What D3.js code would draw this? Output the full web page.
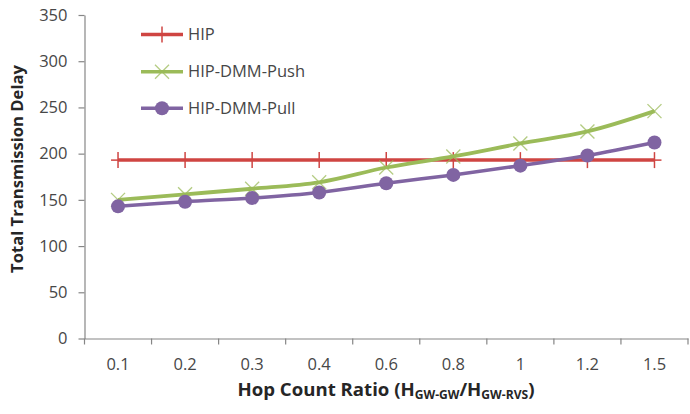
<!DOCTYPE html>
<html><head><meta charset="utf-8">
<script src="https://cdn.jsdelivr.net/npm/d3@7"></script>
<style>
html,body{margin:0;padding:0;background:#fff;}
svg{display:block;font-family:"Open Sans",sans-serif;}
</style></head>
<body><svg id="c" width="690" height="414"></svg>
<script>
const categories = ["0.1","0.2","0.3","0.4","0.6","0.8","1","1.2","1.5"];
const hipValues  = [193,193,193,193,193,193,193,193,193];
const pushValues = [150,156,162,169,185,197,211,224,246];
const pullValues = [143,148,152,158,168,177,187,198,212];
const yTicks = [0,50,100,150,200,250,300,350];
const seriesNames = ["HIP","HIP-DMM-Push","HIP-DMM-Pull"];
const seriesColors = ["#cf4542","#9bbb59","#8064a2"];

const svg = d3.select("#c");
const mLeft = 84.5, mRight = 688, mTop = 15, mBottom = 338.5;
const x = d3.scaleBand().domain(categories).range([mLeft, mRight]).padding(0);
const y = d3.scaleLinear().domain([0,350]).range([mBottom, mTop]);
const axisColor = "#868686", textColor = "#474747";

// Y axis
const ya = svg.append("g").attr("transform",`translate(${mLeft},0)`)
  .call(d3.axisLeft(y).tickValues(yTicks).tickSize(6).tickPadding(11).tickSizeOuter(0));
ya.select(".domain").attr("stroke",axisColor).attr("stroke-width",1.2);
ya.selectAll(".tick line").attr("stroke",axisColor).attr("stroke-width",1.2);
ya.selectAll(".tick text").attr("fill",textColor).style("font-size","16.5px").style("font-family","'Open Sans',sans-serif");

// X axis
const xa = svg.append("g").attr("transform",`translate(0,${mBottom})`)
  .call(d3.axisBottom(x).tickSize(0).tickPadding(20).tickSizeOuter(0));
xa.select(".domain").attr("stroke",axisColor).attr("stroke-width",1.2);
xa.selectAll(".tick text").attr("fill",textColor).style("font-size","16.5px").style("font-family","'Open Sans',sans-serif");
// band boundary ticks
const bounds = categories.map(c => x(c) + x.bandwidth()).concat([x(categories[0])]);
svg.append("g").selectAll("line").data(bounds).join("line")
  .attr("x1",d=>d).attr("x2",d=>d).attr("y1",mBottom).attr("y2",mBottom+6)
  .attr("stroke",axisColor).attr("stroke-width",1.2);

// Titles
function fitText(sel, target){
  const w = sel.node().getComputedTextLength();
  const fs = parseFloat(sel.style("font-size"));
  sel.style("font-size", (fs*target/w)+"px");
}
const yt = svg.append("text")
  .attr("transform",`translate(23,${(65+273)/2}) rotate(-90)`)
  .attr("text-anchor","middle").attr("fill","#262626")
  .style("font-weight","bold").style("font-size","15px")
  .text("Total Transmission Delay");
fitText(yt, 208);

const xt = svg.append("text").attr("x",386).attr("y",396)
  .attr("text-anchor","middle").attr("fill","#262626")
  .style("font-weight","bold").style("font-size","16px");
xt.append("tspan").text("Hop Count Ratio (H");
xt.append("tspan").text("GW-GW").style("font-size","0.65em").attr("dy",3);
xt.append("tspan").text("/H").attr("dy",-3);
xt.append("tspan").text("GW-RVS").style("font-size","0.65em").attr("dy",3);
xt.append("tspan").text(")").attr("dy",-3);
fitText(xt, 297);

// Lines
const cx = c => x(c) + x.bandwidth()/2;
const mk = vals => categories.map((c,i)=>({c, v: vals[i]}));
const lineStraight = d3.line().x(d=>cx(d.c)).y(d=>y(d.v));
const lineSmooth = d3.line().x(d=>cx(d.c)).y(d=>y(d.v)).curve(d3.curveCatmullRom.alpha(0.5));

function plus(g, px, py, col){
  g.append("line").attr("x1",px-7).attr("x2",px+7).attr("y1",py).attr("y2",py).attr("stroke",col).attr("stroke-width",1.5);
  g.append("line").attr("x1",px).attr("x2",px).attr("y1",py-8).attr("y2",py+8).attr("stroke",col).attr("stroke-width",1.5);
}
function cross(g, px, py, col){
  const s=7;
  g.append("line").attr("x1",px-s).attr("x2",px+s).attr("y1",py-s).attr("y2",py+s).attr("stroke",col).attr("stroke-width",1.3).attr("opacity",0.75);
  g.append("line").attr("x1",px-s).attr("x2",px+s).attr("y1",py+s).attr("y2",py-s).attr("stroke",col).attr("stroke-width",1.3).attr("opacity",0.75);
}
function dot(g, px, py, col){
  g.append("circle").attr("cx",px).attr("cy",py).attr("r",7).attr("fill",col);
}

const gHip = svg.append("g");
gHip.append("path").datum(mk(hipValues)).attr("d",lineStraight).attr("fill","none").attr("stroke",seriesColors[0]).attr("stroke-width",3.5);
mk(hipValues).forEach(d=>plus(gHip, cx(d.c), y(d.v), seriesColors[0]));

const gPush = svg.append("g");
gPush.append("path").datum(mk(pushValues)).attr("d",lineSmooth).attr("fill","none").attr("stroke",seriesColors[1]).attr("stroke-width",3.8);
mk(pushValues).forEach(d=>cross(gPush, cx(d.c), y(d.v), seriesColors[1]));

const gPull = svg.append("g");
gPull.append("path").datum(mk(pullValues)).attr("d",lineSmooth).attr("fill","none").attr("stroke",seriesColors[2]).attr("stroke-width",3.5);
mk(pullValues).forEach(d=>dot(gPull, cx(d.c), y(d.v), seriesColors[2]));

// Legend
const legY = [34.5, 71.7, 108.3];
const markers = [plus, cross, dot];
seriesNames.forEach((n,i)=>{
  const g = svg.append("g");
  g.append("line").attr("x1",141).attr("x2",183).attr("y1",legY[i]).attr("y2",legY[i])
    .attr("stroke",seriesColors[i]).attr("stroke-width",3.5);
  markers[i](g, 162, legY[i], seriesColors[i]);
  g.append("text").attr("x",188).attr("y",legY[i]).attr("dy","0.35em")
    .attr("fill",textColor).style("font-size","16.5px").text(n);
});
</script></body></html>
